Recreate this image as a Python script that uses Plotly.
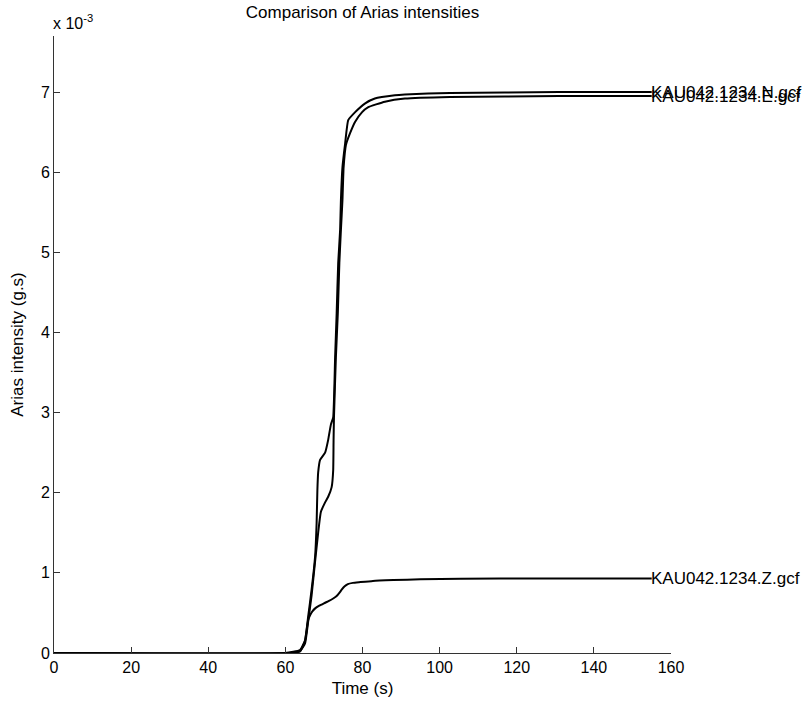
import plotly.graph_objects as go

# values in units of 1e-3 g.s
t_N = [0, 59.9, 63.8, 65.1, 65.9, 66.8, 67.7, 68.1, 68.3, 68.5, 69.0, 70.3, 71.1, 71.8, 72.4, 72.9, 73.3, 73.7, 74.2, 74.4, 74.8, 75.5, 76.3, 78.1, 80.7, 83.2, 88.4, 91.0, 102.7, 131, 155]
v_N = [0, 0, 0.037, 0.16, 0.45, 0.79, 1.20, 1.62, 2.03, 2.25, 2.41, 2.50, 2.66, 2.85, 2.94, 3.69, 4.24, 4.87, 5.28, 5.65, 6.06, 6.36, 6.65, 6.75, 6.86, 6.92, 6.96, 6.97, 6.99, 7.0, 7.0]

t_E = [0, 61.2, 63.8, 65.1, 65.9, 66.8, 67.7, 68.5, 69.2, 70.3, 71.1, 72.0, 72.4, 72.5, 72.6, 73.1, 73.6, 74.0, 74.4, 74.8, 75.1, 75.7, 76.8, 78.1, 79.9, 81.4, 85.8, 91.0, 102.7, 131, 155]
v_E = [0, 0, 0.025, 0.12, 0.39, 0.72, 1.14, 1.50, 1.76, 1.88, 1.95, 2.07, 2.28, 2.66, 2.94, 3.69, 4.24, 4.87, 5.28, 5.65, 6.06, 6.34, 6.49, 6.63, 6.75, 6.81, 6.88, 6.92, 6.94, 6.95, 6.95]

t_Z = [0, 61.2, 63.8, 65.1, 65.9, 66.4, 67.0, 67.8, 68.8, 70.0, 71.3, 72.4, 73.3, 74.0, 74.6, 75.3, 76.2, 77.5, 79.5, 82.7, 88.0, 95.0, 115.7, 155]
v_Z = [0, 0, 0.02, 0.15, 0.41, 0.47, 0.52, 0.56, 0.59, 0.62, 0.65, 0.68, 0.71, 0.75, 0.79, 0.83, 0.86, 0.875, 0.885, 0.90, 0.91, 0.92, 0.93, 0.93]

names = ["KAU042.1234.N.gcf", "KAU042.1234.E.gcf", "KAU042.1234.Z.gcf"]
x_ticks = [0, 20, 40, 60, 80, 100, 120, 140, 160]
y_ticks = [0, 1, 2, 3, 4, 5, 6, 7]

FONT = "Liberation Sans, Arial, Helvetica, sans-serif"

fig = go.Figure()
for t, v, name in [(t_N, v_N, names[0]), (t_E, v_E, names[1]), (t_Z, v_Z, names[2])]:
    fig.add_trace(go.Scatter(x=t, y=v, mode="lines", line=dict(color="black", width=2, shape="spline", smoothing=0.4),
                             showlegend=False, name=name))
    fig.add_annotation(x=t[-1], y=v[-1], text=name, showarrow=False, xanchor="left",
                       yanchor="middle", xshift=-3, font=dict(size=17, color="black", family=FONT))

fig.add_annotation(xref="paper", yref="paper", x=0, y=1, xanchor="left", yanchor="bottom",
                   yshift=2, xshift=-3, text="x 10<sup>-3</sup>", showarrow=False,
                   font=dict(size=16, color="black", family=FONT))

fig.update_layout(
    width=808, height=707,
    margin=dict(l=54, r=137, t=36, b=54),
    paper_bgcolor="white", plot_bgcolor="white",
    font=dict(family=FONT, size=16, color="black"),
    title=dict(text="Comparison of Arias intensities", x=(54 + 671) / 2 / 808, xanchor="center",
               y=1 - 12 / 707, yanchor="middle", yref="container",
               font=dict(size=17, family=FONT, color="black")),
    xaxis=dict(range=[0, 160], tickvals=x_ticks, ticks="inside", ticklen=6, tickcolor="#333",
               showline=True, linecolor="#333", linewidth=1, showgrid=False, zeroline=False,
               tickfont=dict(size=16),
               title=dict(text="Time (s)", standoff=6, font=dict(size=17))),
    yaxis=dict(range=[0, 7.7], tickvals=y_ticks, ticks="inside", ticklen=6, tickcolor="#333",
               showline=True, linecolor="#333", linewidth=1, showgrid=False, zeroline=False,
               tickfont=dict(size=16),
               title=dict(text="Arias intensity (g.s)", standoff=12, font=dict(size=17))),
)

fig.write_html("out.html")
